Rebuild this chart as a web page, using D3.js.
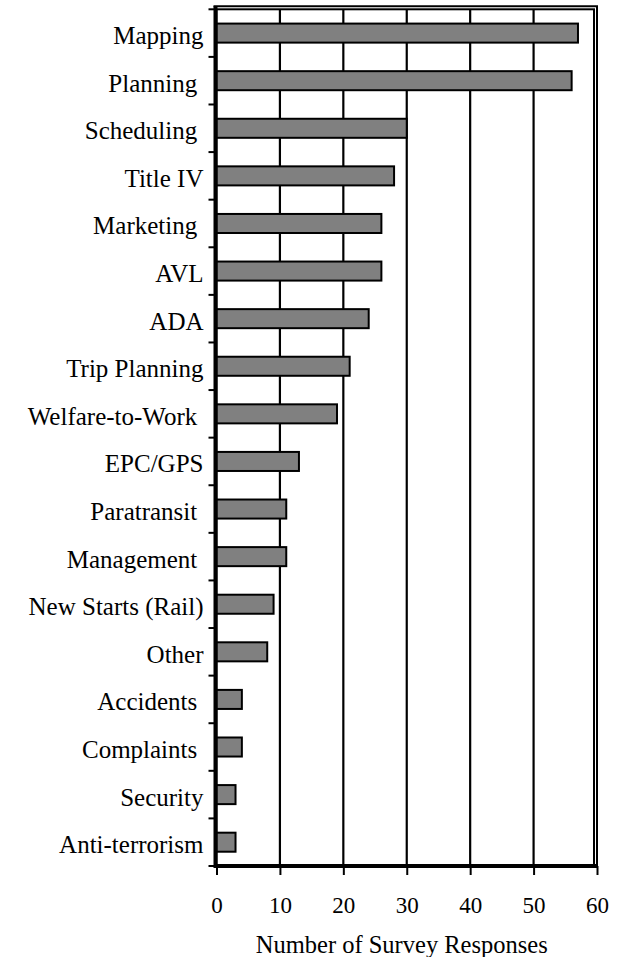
<!DOCTYPE html>
<html>
<head>
<meta charset="utf-8">
<script src="https://cdnjs.cloudflare.com/ajax/libs/d3/7.8.5/d3.min.js"></script>
<style>
  html, body { margin: 0; padding: 0; background: #fff; }
  text { font-family: "Liberation Serif", "Times New Roman", serif; fill: #000; white-space: pre; }
</style>
</head>
<body>
<svg id="chart" width="621" height="957"></svg>
<script>
const categories = ["Mapping", "Planning ", "Scheduling ", "Title IV", "Marketing ", "AVL", "ADA",
  "Trip Planning", "Welfare-to-Work ", "EPC/GPS", "Paratransit ", "Management ",
  "New Starts (Rail)", "Other", "Accidents ", "Complaints ", "Security", "Anti-terrorism"];
const responses = [57, 56, 30, 28, 26, 26, 24, 21, 19, 13, 11, 11, 9, 8, 4, 4, 3, 3];
const xTicks = [0, 10, 20, 30, 40, 50, 60];
const xTitle = "Number of Survey Responses";

(function () {
const svg = d3.select("#chart");
const pL = 216.5, pR = 597, pT = 9.3, pB = 866;

const x = d3.scaleLinear().domain([0, 60]).range([pL, pR]);
const y = d3.scaleBand().domain(categories).range([pT, pB]).paddingInner(0.6).paddingOuter(0.3);
const yb = d3.scaleBand().domain(categories).range([pT, pB]);

// outer offset frame (top and right)
svg.append("path")
  .attr("d", `M${pL - 3},${pT - 3} H${pR} V${pB}`)
  .attr("fill", "none").attr("stroke", "#000").attr("stroke-width", 2);
// plot area frame
svg.append("rect")
  .attr("x", pL).attr("y", pT).attr("width", pR - 3 - pL).attr("height", pB - pT)
  .attr("fill", "#fff").attr("stroke", "#000").attr("stroke-width", 2);

// gridlines
svg.append("g").selectAll("line").data(xTicks.filter(d => d > 0 && d < 60)).join("line")
  .attr("x1", d => x(d)).attr("x2", d => x(d))
  .attr("y1", pT).attr("y2", pB)
  .attr("stroke", "#000").attr("stroke-width", 2.2);

// bars
svg.append("g").selectAll("rect").data(categories).join("rect")
  .attr("x", x(0))
  .attr("y", d => y(d))
  .attr("width", (d, i) => x(responses[i]) - x(0))
  .attr("height", y.bandwidth())
  .attr("fill", "#808080").attr("stroke", "#000").attr("stroke-width", 2);

// x axis
const xAxis = svg.append("g").attr("transform", `translate(0,${pB})`)
  .call(d3.axisBottom(x).tickValues(xTicks).tickSize(9).tickPadding(22).tickFormat(d3.format("d")));
xAxis.select(".domain").attr("stroke-width", 4).attr("d", `M${pL - 2},0H${pR}`);
xAxis.selectAll(".tick line").attr("stroke-width", 2);
xAxis.selectAll(".tick text").attr("font-size", 23).attr("font-family", "Liberation Serif");

// y axis (category boundaries as ticks)
svg.append("line").attr("x1", pL - 1).attr("x2", pL - 1).attr("y1", pT - 3).attr("y2", pB + 2)
  .attr("stroke", "#000").attr("stroke-width", 4);
const bounds = categories.map(c => yb(c)).concat([pB]);
svg.append("g").selectAll("line").data(bounds).join("line")
  .attr("x1", pL - 8).attr("x2", pL)
  .attr("y1", d => d).attr("y2", d => d)
  .attr("stroke", "#000").attr("stroke-width", 2);
svg.append("g").selectAll("text").data(categories).join("text")
  .attr("x", pL - 13)
  .attr("y", d => yb(d) + yb.bandwidth() / 2)
  .attr("dy", "0.44em")
  .attr("text-anchor", "end")
  .attr("font-size", 25)
  .text(d => d);

// x title
svg.append("text").attr("x", (pL + pR) / 2 - 5).attr("y", 953)
  .attr("text-anchor", "middle").attr("font-size", 24.5).text(xTitle);
})();
</script>
</body>
</html>
